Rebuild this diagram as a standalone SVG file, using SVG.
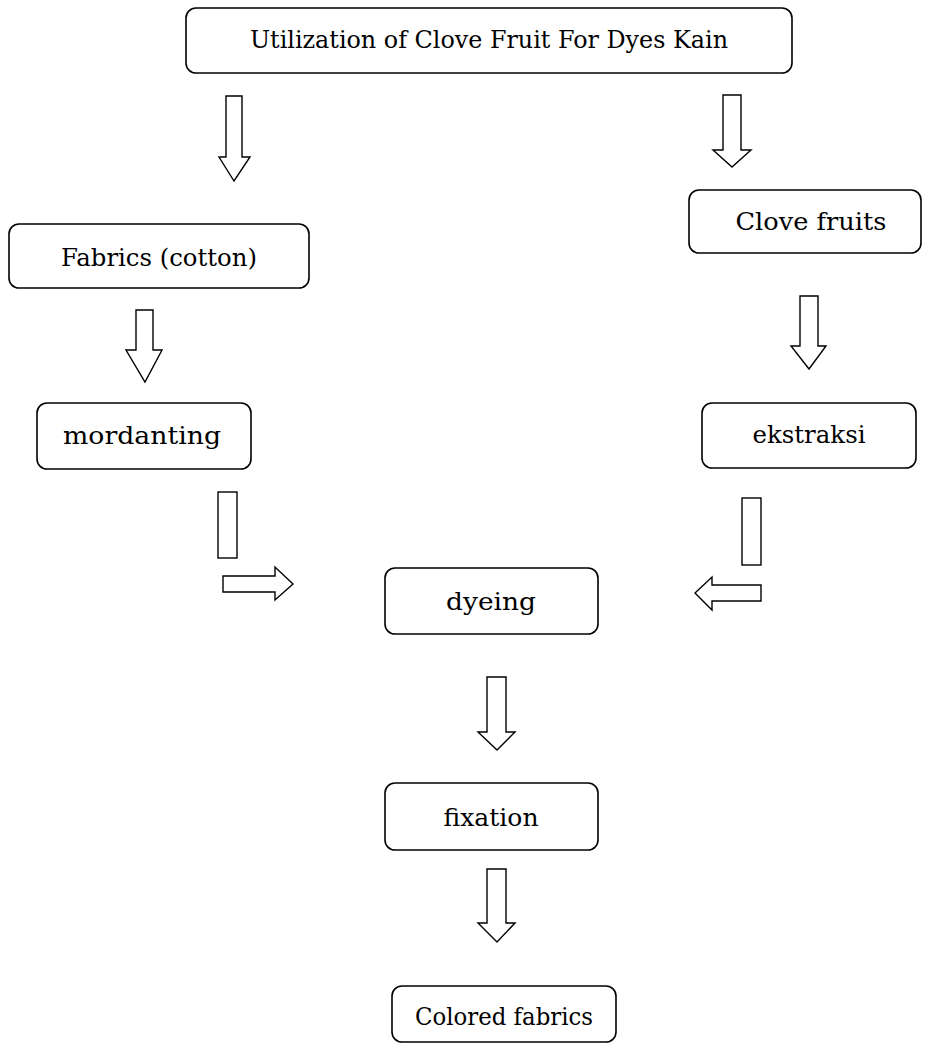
<svg xmlns="http://www.w3.org/2000/svg" width="928" height="1048" viewBox="0 0 928 1048">
<style>
.box{fill:#fff;stroke:#000;stroke-width:1.6}
.arr{fill:#fff;stroke:#000;stroke-width:1.4;stroke-linejoin:miter}
.t{font-family:"DejaVu Serif",serif;font-size:25px;fill:#000;text-anchor:middle}
.tt{font-family:"DejaVu Serif",serif;font-size:23.5px;fill:#000;text-anchor:middle}
</style>
<rect width="928" height="1048" fill="#fff"/>
<g id="n-title"><rect class="box" x="186" y="8" width="606" height="65" rx="10"/><text class="tt" x="489" y="48" textLength="478" lengthAdjust="spacingAndGlyphs">Utilization of Clove Fruit For Dyes Kain</text></g>
<g id="n-fabrics"><rect class="box" x="9" y="224" width="300" height="64" rx="10"/><text class="t" x="159" y="266" textLength="196" lengthAdjust="spacingAndGlyphs">Fabrics (cotton)</text></g>
<g id="n-clove"><rect class="box" x="689" y="190" width="232" height="63" rx="10"/><text class="t" x="811" y="230" textLength="151" lengthAdjust="spacingAndGlyphs">Clove fruits</text></g>
<g id="n-mordanting"><rect class="box" x="37" y="403" width="214" height="66" rx="10"/><text class="t" x="142" y="444" textLength="158" lengthAdjust="spacingAndGlyphs">mordanting</text></g>
<g id="n-ekstraksi"><rect class="box" x="702" y="403" width="214" height="65" rx="10"/><text class="t" x="809" y="443" textLength="113" lengthAdjust="spacingAndGlyphs">ekstraksi</text></g>
<g id="n-dyeing"><rect class="box" x="385" y="568" width="213" height="66" rx="10"/><text class="t" x="491" y="610" textLength="90" lengthAdjust="spacingAndGlyphs">dyeing</text></g>
<g id="n-fixation"><rect class="box" x="385" y="783" width="213" height="67" rx="10"/><text class="t" x="491" y="826" textLength="95" lengthAdjust="spacingAndGlyphs">fixation</text></g>
<g id="n-colored"><rect class="box" x="392" y="986" width="224" height="56" rx="10"/><text class="t" x="504" y="1025" textLength="178" lengthAdjust="spacingAndGlyphs">Colored fabrics</text></g>
<g id="connectors">
<path class="arr" d="M226 96H242V157H250L234 181L219 157H226Z"/>
<path class="arr" d="M723 95H741V150H751L732 167L713 150H723Z"/>
<path class="arr" d="M136 310H153V350H162L145 382L126 350H136Z"/>
<path class="arr" d="M800 296H818V346H826L809 369L791 346H800Z"/>
<rect class="arr" x="218" y="492" width="19" height="66"/>
<path class="arr" d="M223 576H275V567L293 584L275 600V592H223Z"/>
<rect class="arr" x="742" y="498" width="19" height="67"/>
<path class="arr" d="M761 585H712V577L695 593L712 610V601H761Z"/>
<path class="arr" d="M487 677H506V732H515L497 750L478 732H487Z"/>
<path class="arr" d="M487 869H506V923H515L497 942L478 923H487Z"/>
</g>
</svg>
